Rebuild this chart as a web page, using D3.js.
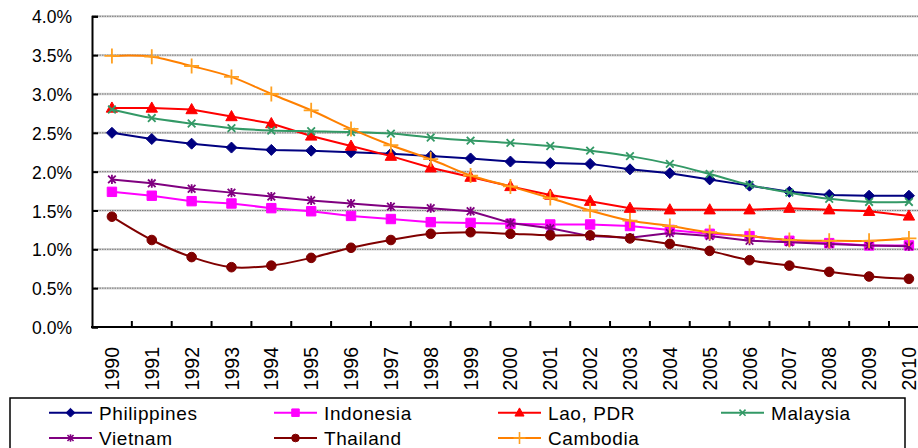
<!DOCTYPE html>
<html><head><meta charset="utf-8">
<script src="https://cdn.jsdelivr.net/npm/d3@7"></script>
<style>html,body{margin:0;padding:0;background:#fff;overflow:hidden}svg{display:block}text{font-family:"Liberation Sans",Arial,sans-serif;fill:#000}</style>
</head><body><svg id="c" width="918" height="448"></svg>
<script>
const years = ["1990","1991","1992","1993","1994","1995","1996","1997","1998","1999","2000","2001","2002","2003","2004","2005","2006","2007","2008","2009","2010"];
const yTicks = [0,0.5,1.0,1.5,2.0,2.5,3.0,3.5,4.0];
const philippines = [2.50,2.42,2.36,2.31,2.28,2.27,2.25,2.23,2.20,2.17,2.13,2.11,2.10,2.03,1.98,1.90,1.82,1.74,1.70,1.69,1.69];
const indonesia   = [1.74,1.69,1.62,1.59,1.53,1.49,1.43,1.39,1.35,1.34,1.33,1.32,1.32,1.30,1.25,1.20,1.17,1.11,1.08,1.05,1.05];
const lao         = [2.82,2.82,2.80,2.71,2.62,2.46,2.33,2.20,2.05,1.93,1.81,1.70,1.62,1.53,1.51,1.51,1.51,1.53,1.51,1.49,1.43];
const malaysia    = [2.80,2.69,2.62,2.56,2.53,2.52,2.51,2.49,2.44,2.40,2.37,2.33,2.27,2.20,2.10,1.97,1.83,1.73,1.65,1.61,1.61];
const vietnam     = [1.90,1.85,1.78,1.73,1.68,1.63,1.59,1.55,1.53,1.49,1.34,1.27,1.17,1.15,1.21,1.17,1.11,1.09,1.07,1.05,1.04];
const thailand    = [1.42,1.12,0.90,0.77,0.79,0.89,1.02,1.12,1.20,1.22,1.20,1.18,1.18,1.14,1.07,0.98,0.86,0.79,0.71,0.65,0.62];
const cambodia    = [3.49,3.48,3.36,3.22,3.00,2.79,2.55,2.34,2.16,1.95,1.81,1.66,1.50,1.37,1.30,1.22,1.17,1.12,1.11,1.11,1.14];
const seriesNames = ["Philippines","Indonesia","Lao, PDR","Malaysia","Vietnam","Thailand","Cambodia"];

const series = [
  {name:seriesNames[0], values:philippines, line:"#000080", fill:"#000080", shape:"diamond", smooth:false},
  {name:seriesNames[1], values:indonesia,   line:"#FF00FF", fill:"#FF00FF", shape:"square", smooth:false},
  {name:seriesNames[2], values:lao,         line:"#FF0000", fill:"#FF0000", shape:"triangle", smooth:false},
  {name:seriesNames[3], values:malaysia,    line:"#339966", fill:"#339966", shape:"x", smooth:true},
  {name:seriesNames[4], values:vietnam,     line:"#800080", fill:"#800080", shape:"star", smooth:false},
  {name:seriesNames[5], values:thailand,    line:"#800000", fill:"#800000", shape:"circle", smooth:true},
  {name:seriesNames[6], values:cambodia,    line:"#FF8000", fill:"#FFA020", shape:"plus", smooth:true}
];

const svg = d3.select("#c");
const pLeft = 92, band = 39.85, pTop = 16.3, pBottom = 327;
const x = d3.scaleBand().domain(years).range([pLeft, pLeft + band*years.length]);
const y = d3.scaleLinear().domain([0,4]).range([pBottom, pTop]);

// gridlines
const grid = svg.append("g");
yTicks.filter(t=>t>0).forEach(t=>{
  grid.append("line").attr("x1",pLeft).attr("x2",918).attr("y1",y(t)).attr("y2",y(t))
    .attr("stroke","#d4d4d4").attr("stroke-width",2.5);
  grid.append("line").attr("x1",pLeft).attr("x2",918).attr("y1",y(t)).attr("y2",y(t))
    .attr("stroke","#7a7a7a").attr("stroke-width",1).attr("stroke-dasharray","1.5,1");
});

// y axis
const yAxis = d3.axisLeft(y).tickValues(yTicks).tickSize(-6).tickPadding(20).tickFormat(d=>d.toFixed(1)+"%");
const ga = svg.append("g").attr("transform",`translate(${pLeft},0)`).call(yAxis);
ga.select(".domain").attr("stroke","#000").attr("stroke-width",2);
ga.selectAll(".tick line").attr("stroke","#000").attr("stroke-width",2);
ga.selectAll(".tick text").attr("font-size","17.5px").attr("x",-20).attr("dy","0.38em")
  .style("font-family","'Liberation Sans',Arial,sans-serif");

// x axis
const xb = svg.append("g");
xb.append("line").attr("x1",pLeft-1).attr("x2",918).attr("y1",pBottom).attr("y2",pBottom).attr("stroke","#000").attr("stroke-width",2);
years.forEach((yr,i)=>{
  const bx = x(yr) + band;
  xb.append("line").attr("x1",bx).attr("x2",bx).attr("y1",pBottom).attr("y2",pBottom-6).attr("stroke","#000").attr("stroke-width",2);
  xb.append("text").attr("transform",`translate(${x(yr)+band/2},347) rotate(-90)`)
    .attr("text-anchor","end").attr("dy","0.36em").attr("font-size","19.5px").text(yr);
});

function markerPath(shape, k){
  k = k||1;
  const p = d3.path();
  if(shape==="diamond"){const r=5.5*k;p.moveTo(0,-r);p.lineTo(r,0);p.lineTo(0,r);p.lineTo(-r,0);p.closePath();}
  else if(shape==="square"){const r=4.7*k;p.rect(-r,-r,2*r,2*r);}
  else if(shape==="triangle"){const r=6*k;p.moveTo(0,-r);p.lineTo(r*0.95,r*0.7);p.lineTo(-r*0.95,r*0.7);p.closePath();}
  else if(shape==="circle"){p.arc(0,0,4.8*k,0,2*Math.PI);}
  else if(shape==="x"){const r=3.8*k;p.moveTo(-r,-r);p.lineTo(r,r);p.moveTo(-r,r);p.lineTo(r,-r);}
  else if(shape==="star"){const r=3.8*k;p.moveTo(-r,-r);p.lineTo(r,r);p.moveTo(-r,r);p.lineTo(r,-r);p.moveTo(0,-r*1.2);p.lineTo(0,r*1.2);}
  else if(shape==="plus"){const r=7.5*k;p.moveTo(-r,0);p.lineTo(r,0);p.moveTo(0,-r);p.lineTo(0,r);}
  return p.toString();
}
const stroked = s => (s==="x"||s==="star"||s==="plus");

const plot = svg.append("g");
series.forEach(s=>{
  const line = d3.line().x((d,i)=>x(years[i])+band/2).y(d=>y(d))
    .curve(s.smooth ? d3.curveCatmullRom.alpha(0.5) : d3.curveLinear);
  plot.append("path").datum(s.values).attr("d",line).attr("fill","none")
    .attr("stroke",s.line).attr("stroke-width",2);
  plot.selectAll(null).data(s.values).enter().append("path")
    .attr("transform",(d,i)=>`translate(${x(years[i])+band/2},${y(d)})`)
    .attr("d",markerPath(s.shape,1))
    .attr("fill",stroked(s.shape)?"none":s.fill)
    .attr("stroke",s.fill).attr("stroke-width",stroked(s.shape)?1.8:1);
});

// legend
const lg = svg.append("g");
lg.append("rect").attr("x",10).attr("y",398).attr("width",895).attr("height",70)
  .attr("fill","#fff").attr("stroke","#000").attr("stroke-width",1.5);
const colX = [49,274,498,721], rowY = [412.7,438];
series.forEach((s,i)=>{
  const cx = colX[i%4], cy = rowY[Math.floor(i/4)];
  lg.append("line").attr("x1",cx).attr("x2",cx+43).attr("y1",cy).attr("y2",cy).attr("stroke",s.line).attr("stroke-width",2);
  lg.append("path").attr("transform",`translate(${cx+21.5},${cy})`).attr("d",markerPath(s.shape,0.8))
    .attr("fill",stroked(s.shape)?"none":s.fill).attr("stroke",s.fill).attr("stroke-width",stroked(s.shape)?1.6:1);
  lg.append("text").attr("x",cx+50).attr("y",cy).attr("dy","0.36em").attr("font-size","19px")
    .attr("letter-spacing","0.6px").text(s.name);
});
</script></body></html>
